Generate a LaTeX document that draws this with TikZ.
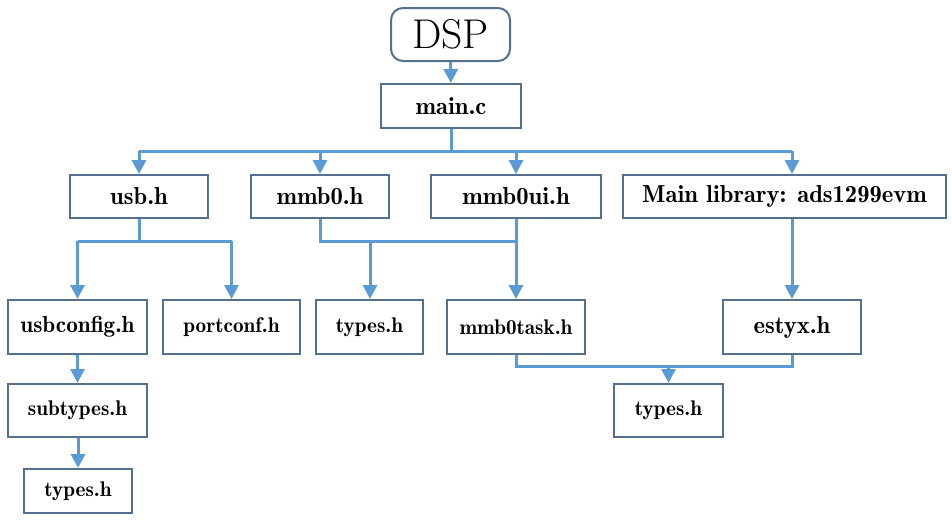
\documentclass[tikz,border=0pt]{standalone}
\usepackage{xcolor}
\usepackage{fontspec}
\usepackage{tikz}
\usetikzlibrary{arrows.meta,positioning,calc}

\newfontfamily\demifont{lmromandemi10-regular}[Extension=.otf]
\definecolor{linkblue}{RGB}{91,155,213}
\definecolor{boxline}{RGB}{84,112,142}

\begin{document}
\begin{tikzpicture}[
    x=0.5pt,y=-0.5pt,
    every node/.style={draw=boxline,line width=1pt,fill=white,inner sep=0pt,align=center},
    bigbox/.style={font=\demifont\fontsize{12.3}{14}\selectfont,minimum height=22pt},
    smallbox/.style={font=\demifont\fontsize{10.6}{12}\selectfont,minimum height=27pt},
    link/.style={linkblue,line width=1.5pt},
    arrow/.style={link,-{Triangle[length=7pt,width=7pt]}}
  ]
    \useasboundingbox (0,0) rectangle (952,525);
    % top
    \node (dsp)  [rounded corners=6pt,minimum width=59.5pt,minimum height=26.5pt,font=\fontsize{20.8}{24}\selectfont] at (450.5,34.5) {DSP};
    \node (main) [bigbox,minimum width=70pt] at (451,106) {main.c};
    % first row
    \node (usb)    [bigbox,minimum width=69pt,minimum height=21.5pt] at (139,196.5) {usb.h};
    \node (mmb)    [bigbox,minimum width=69pt,minimum height=21.5pt] at (320,196.5) {mmb0.h};
    \node (mmbui)  [bigbox,minimum width=85pt,minimum height=21.5pt] at (516,196.5) {mmb0ui.h};
    \node (lib)    [bigbox,minimum width=161.5pt,minimum height=21.5pt] at (784.5,196.5) {Main library: ads1299evm};
    % second row
    \node (usbcfg)  [smallbox,minimum width=69.5pt,font=\demifont\fontsize{11.6}{13}\selectfont] at (77.5,327) {usbconfig.h};
    \node (port)    [smallbox,minimum width=68.5pt] at (231.5,327) {portconf.h};
    \node (typesa)  [smallbox,minimum width=53.5pt] at (369.5,327) {types.h};
    \node (mmbtask) [smallbox,minimum width=69pt] at (516,327) {mmb0task.h};
    \node (estyx)   [bigbox,minimum width=69pt,minimum height=27pt] at (792,327) {estyx.h};
    % lower part
    \node (subt)   [smallbox,minimum width=69.5pt,minimum height=26.5pt] at (77.5,410.5) {subtypes.h};
    \node (typesb) [smallbox,minimum width=54.5pt,minimum height=26.5pt] at (668.5,410.5) {types.h};
    \node (typesc) [smallbox,minimum width=54pt,minimum height=22pt] at (78,491) {types.h};
    % bus points
    \coordinate (busa) at (451,151);
    \coordinate (busb) at (139,241);
    \coordinate (busc) at (370,241);
    \coordinate (busd) at (668.5,366);

    \draw[arrow] (dsp) -- (main);
    \draw[link] (main.south) -- (busa);
    \draw[link] (usb.north |- busa) -- (estyx.north |- busa);
    \foreach \n in {usb,mmb,mmbui}
      \draw[arrow] (\n.north |- busa) -- (\n.north);
    \draw[arrow] (estyx.north |- busa) -- (estyx.north |- lib.north);
    % usb.h
    \draw[link] (usb.south) -- (busb);
    \draw[link] (usbcfg.north |- busb) -- (port.north |- busb);
    \draw[arrow] (usbcfg.north |- busb) -- (usbcfg.north);
    \draw[arrow] (port.north |- busb) -- (port.north);
    % mmb0.h and mmb0ui.h
    \draw[link] (mmb.south) |- (mmbui.south |- busc);
    \draw[arrow] (busc) -- (typesa.north -| busc);
    \draw[arrow] (mmbui.south) -- (mmbtask.north);
    % main library
    \draw[arrow] (estyx.north |- lib.south) -- (estyx.north);
    \draw[link] (mmbtask.south) |- (busd) -| (estyx.south);
    \draw[arrow] (busd) -- (typesb.north);
    % left column
    \draw[arrow] (usbcfg) -- (subt);
    \draw[arrow] (subt.south -| typesc) -- (typesc.north);
  \end{tikzpicture}
\end{document}
